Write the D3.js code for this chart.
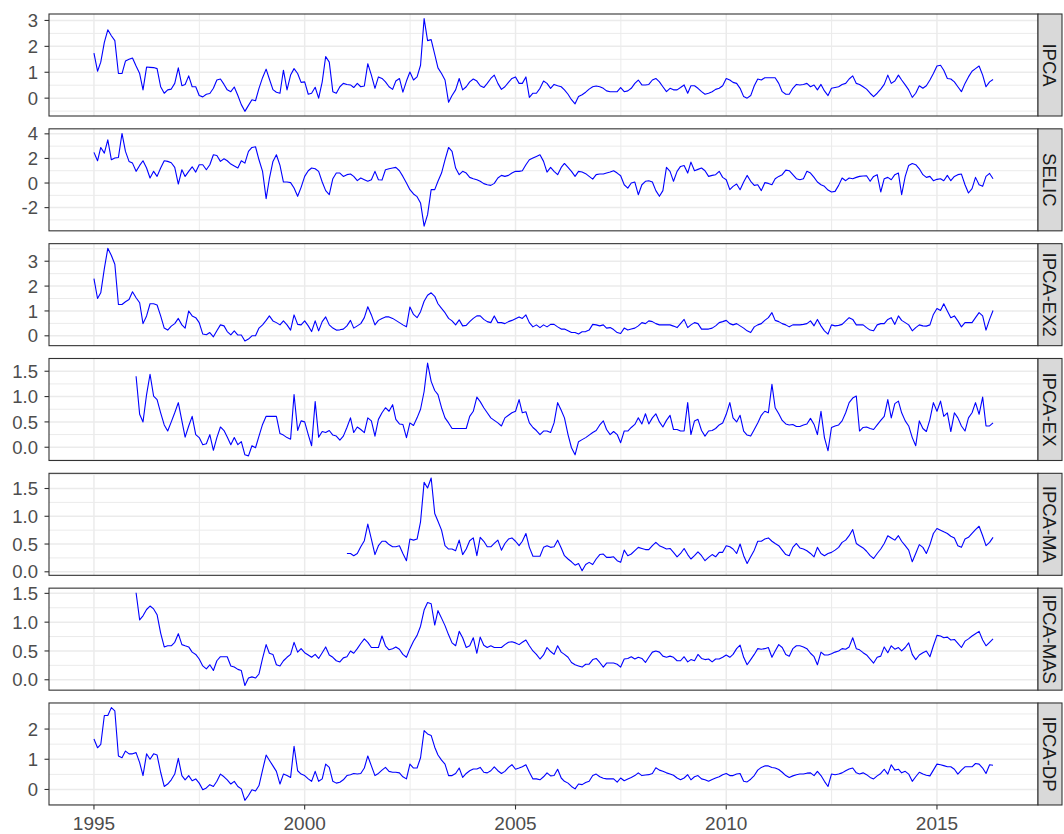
<!DOCTYPE html>
<html>
<head>
<meta charset="utf-8">
<script src="https://cdn.jsdelivr.net/npm/d3@7"></script>
<style>
  html, body { margin: 0; padding: 0; background: #ffffff; }
  svg { display: block; }
</style>
</head>
<body>
<svg id="chart" width="1064" height="834"></svg>
<script>
// Monthly rates (%), one row per year, January to December.
const ipca = [
  1.74, 1.04, 1.39, 2.15, 2.64, 2.41, 2.22, 0.95, 0.95, 1.43, 1.50, 1.55,
  1.24, 0.95, 0.32, 1.20, 1.19, 1.18, 1.14, 0.44, 0.19, 0.32, 0.35, 0.57,
  1.17, 0.48, 0.53, 0.86, 0.44, 0.44, 0.10, 0.05, 0.15, 0.18, 0.38, 0.70,
  0.74, 0.53, 0.32, 0.25, 0.43, 0.10, -0.25, -0.51, -0.28, -0.06, -0.10, 0.38,
  0.79, 1.12, 0.74, 0.33, 0.23, 0.19, 1.08, 0.32, 0.89, 1.14, 0.95, 0.61,
  0.63, 0.15, 0.19, 0.42, 0.00, 0.63, 1.61, 1.39, 0.25, 0.19, 0.44, 0.57,
  0.53, 0.51, 0.41, 0.57, 0.44, 0.47, 1.33, 0.89, 0.38, 0.82, 0.76, 0.63,
  0.44, 0.34, 0.66, 0.76, 0.23, 0.66, 1.01, 0.70, 0.82, 1.27, 3.07, 2.22,
  2.26, 1.69, 1.17, 0.95, 0.70, -0.16, 0.10, 0.32, 0.76, 0.32, 0.44, 0.63,
  0.74, 0.66, 0.48, 0.41, 0.57, 0.76, 0.89, 0.57, 0.34, 0.44, 0.61, 0.76,
  0.82, 0.57, 0.57, 0.82, 0.03, 0.19, 0.19, 0.38, 0.66, 0.57, 0.38, 0.53,
  0.48, 0.44, 0.32, 0.15, -0.06, -0.22, 0.06, 0.13, 0.23, 0.35, 0.44, 0.47,
  0.44, 0.38, 0.28, 0.25, 0.25, 0.25, 0.41, 0.25, 0.28, 0.38, 0.57, 0.70,
  0.51, 0.51, 0.53, 0.70, 0.76, 0.63, 0.44, 0.25, 0.38, 0.32, 0.32, 0.41,
  0.51, 0.19, 0.48, 0.48, 0.38, 0.25, 0.15, 0.19, 0.25, 0.34, 0.38, 0.48,
  0.76, 0.70, 0.61, 0.57, 0.38, 0.06, 0.00, 0.10, 0.48, 0.74, 0.70, 0.79,
  0.79, 0.79, 0.79, 0.57, 0.25, 0.15, 0.15, 0.38, 0.53, 0.51, 0.53, 0.57,
  0.44, 0.51, 0.32, 0.53, 0.28, 0.10, 0.38, 0.41, 0.44, 0.53, 0.57, 0.74,
  0.86, 0.57, 0.53, 0.44, 0.35, 0.19, 0.06, 0.19, 0.35, 0.53, 0.89, 0.57,
  0.66, 0.89, 0.70, 0.51, 0.32, 0.03, 0.19, 0.48, 0.38, 0.48, 0.70, 0.95,
  1.24, 1.27, 1.08, 0.76, 0.74, 0.63, 0.44, 0.25, 0.57, 0.82, 1.04, 1.14,
  1.24, 0.89, 0.44, 0.63, 0.72
];

const selic = [
  2.49, 1.81, 2.89, 2.43, 3.51, 1.89, 2.03, 2.08, 4.03, 2.57, 1.76, 1.62,
  0.95, 1.43, 1.81, 1.22, 0.41, 0.95, 0.54, 1.22, 1.81, 1.76, 1.65, 1.27,
  -0.08, 1.08, 0.54, 0.95, 1.32, 0.89, 1.49, 1.49, 1.08, 1.49, 2.30, 2.24,
  1.76, 1.97, 1.81, 1.54, 1.38, 1.22, 1.81, 1.62, 2.57, 2.89, 2.95, 1.89,
  0.95, -1.27, 0.35, 1.76, 2.30, 1.43, 0.08, 0.08, 0.03, -0.41, -1.08, -0.35,
  0.54, 1.00, 1.22, 1.16, 0.95, 0.08, -0.62, -0.95, 0.35, 0.81, 0.81, 0.54,
  0.68, 0.73, 0.54, 0.19, 0.41, 0.27, 0.14, 0.27, 0.95, 0.27, 0.24, 1.08,
  1.16, 1.22, 1.27, 1.00, 0.54, 0.00, -0.54, -0.89, -1.11, -1.62, -3.51, -2.57,
  -0.54, -0.54, 0.14, 0.81, 1.89, 2.89, 2.57, 1.22, 0.68, 0.95, 0.81, 0.46,
  0.35, 0.27, 0.14, -0.05, -0.14, -0.19, -0.03, 0.41, 0.62, 0.54, 0.62, 0.81,
  0.95, 0.95, 1.00, 1.49, 1.89, 2.03, 2.16, 2.30, 1.76, 0.89, 1.27, 0.95,
  0.68, 1.27, 1.59, 1.27, 0.95, 0.54, 0.95, 0.89, 0.76, 0.54, 0.32, 0.68,
  0.73, 0.73, 0.81, 0.89, 1.00, 0.81, 0.59, -0.14, -0.41, 0.00, 0.08, -0.95,
  -0.14, 0.14, 0.19, 0.08, -0.62, -1.08, -0.62, 1.27, 0.95, 0.14, 0.95, 1.35,
  1.43, 0.81, 1.70, 1.00, 1.11, 1.22, 1.00, 0.54, 0.62, 0.68, 0.95, 0.46,
  0.27, -0.54, -0.27, -0.08, -0.54, 0.08, 0.62, 0.14, -0.19, -0.14, -0.62, 0.03,
  -0.03, -0.14, 0.35, 0.54, 0.68, 1.05, 1.00, 0.68, 0.35, 0.27, 0.35, 0.95,
  0.81, 0.46, 0.08, -0.14, -0.27, -0.57, -0.73, -0.68, -0.19, 0.41, 0.19, 0.41,
  0.35, 0.46, 0.54, 0.57, 0.59, 0.14, 0.54, 0.68, -0.73, 0.35, 0.46, 0.27,
  0.68, 0.81, -0.95, 0.54, 1.43, 1.59, 1.49, 1.16, 0.68, 0.46, 0.54, 0.19,
  0.30, 0.35, 0.19, 0.62, 0.19, 0.54, 0.68, 0.73, -0.14, -0.81, -0.46, 0.46,
  -0.14, -0.27, 0.54, 0.78, 0.35
];

const ipcaEx2 = [
  2.30, 1.50, 1.73, 2.70, 3.52, 3.23, 2.88, 1.26, 1.26, 1.37, 1.46, 1.77,
  1.53, 1.33, 0.49, 0.80, 1.29, 1.29, 1.24, 0.80, 0.31, 0.23, 0.39, 0.49,
  0.70, 0.44, 0.31, 1.00, 0.80, 0.73, 0.53, 0.07, 0.04, 0.13, -0.04, 0.20,
  0.44, 0.40, 0.17, 0.04, 0.20, 0.03, 0.03, -0.21, -0.13, 0.00, 0.00, 0.31,
  0.44, 0.62, 0.80, 0.60, 0.53, 0.44, 0.60, 0.44, 0.23, 0.84, 0.46, 0.44,
  0.60, 0.40, 0.17, 0.60, 0.20, 0.57, 0.76, 0.44, 0.31, 0.23, 0.24, 0.27,
  0.40, 0.62, 0.31, 0.40, 0.49, 0.73, 1.17, 0.84, 0.44, 0.62, 0.70, 0.76,
  0.76, 0.70, 0.62, 0.53, 0.44, 0.36, 1.16, 0.86, 0.73, 0.97, 1.39, 1.63,
  1.73, 1.59, 1.29, 1.10, 0.93, 0.70, 0.60, 0.44, 0.64, 0.40, 0.42, 0.57,
  0.70, 0.80, 0.80, 0.66, 0.57, 0.53, 0.80, 0.53, 0.53, 0.49, 0.57, 0.62,
  0.69, 0.76, 0.70, 0.84, 0.53, 0.36, 0.44, 0.33, 0.44, 0.36, 0.46, 0.46,
  0.36, 0.27, 0.27, 0.20, 0.13, 0.13, 0.07, 0.16, 0.17, 0.23, 0.46, 0.44,
  0.40, 0.44, 0.31, 0.33, 0.25, 0.13, 0.09, 0.31, 0.23, 0.27, 0.31, 0.40,
  0.53, 0.49, 0.60, 0.57, 0.49, 0.44, 0.44, 0.44, 0.44, 0.39, 0.33, 0.49,
  0.66, 0.33, 0.44, 0.53, 0.49, 0.27, 0.27, 0.27, 0.31, 0.40, 0.53, 0.57,
  0.62, 0.49, 0.44, 0.49, 0.40, 0.31, 0.20, 0.13, 0.36, 0.44, 0.49, 0.62,
  0.73, 0.93, 0.62, 0.57, 0.49, 0.44, 0.36, 0.44, 0.44, 0.44, 0.46, 0.49,
  0.60, 0.40, 0.66, 0.40, 0.20, 0.07, 0.44, 0.40, 0.42, 0.46, 0.60, 0.73,
  0.66, 0.44, 0.44, 0.44, 0.33, 0.23, 0.20, 0.44, 0.49, 0.49, 0.66, 0.73,
  0.46, 0.80, 0.62, 0.53, 0.44, 0.20, 0.33, 0.44, 0.40, 0.39, 0.44, 0.86,
  1.10, 1.02, 1.29, 1.00, 0.73, 0.80, 0.60, 0.36, 0.53, 0.53, 0.53, 0.73,
  0.93, 0.80, 0.23, 0.66, 1.02
];

// Starts in January 1996
const ipcaEx = [
  1.40, 0.65, 0.50, 1.04, 1.44, 1.01, 0.94, 0.68, 0.44, 0.32, 0.50, 0.68,
  0.88, 0.52, 0.20, 0.42, 0.61, 0.25, 0.19, 0.05, 0.07, 0.25, -0.06, 0.19,
  0.40, 0.33, 0.20, 0.05, 0.19, 0.05, 0.11, -0.15, -0.17, 0.03, -0.01, 0.22,
  0.45, 0.61, 0.61, 0.61, 0.61, 0.27, 0.24, 0.19, 0.16, 1.04, 0.33, 0.52,
  0.50, 0.25, 0.03, 0.90, 0.20, 0.31, 0.29, 0.33, 0.24, 0.22, 0.14, 0.22,
  0.39, 0.58, 0.29, 0.40, 0.35, 0.29, 0.58, 0.52, 0.22, 0.55, 0.68, 0.78,
  0.71, 0.84, 0.55, 0.46, 0.45, 0.19, 0.48, 0.43, 0.58, 0.75, 1.10, 1.66,
  1.30, 1.12, 1.04, 0.78, 0.58, 0.48, 0.37, 0.37, 0.37, 0.37, 0.37, 0.61,
  0.71, 0.99, 0.90, 0.78, 0.68, 0.58, 0.53, 0.48, 0.42, 0.58, 0.63, 0.68,
  0.71, 0.94, 0.68, 0.70, 0.48, 0.39, 0.33, 0.25, 0.32, 0.32, 0.29, 0.48,
  0.88, 0.73, 0.58, 0.25, -0.01, -0.15, 0.11, 0.15, 0.19, 0.24, 0.29, 0.33,
  0.44, 0.52, 0.35, 0.25, 0.31, 0.25, 0.09, 0.32, 0.32, 0.39, 0.45, 0.58,
  0.46, 0.66, 0.46, 0.58, 0.66, 0.50, 0.40, 0.53, 0.63, 0.35, 0.35, 0.32,
  0.32, 0.88, 0.25, 0.52, 0.55, 0.33, 0.22, 0.32, 0.33, 0.37, 0.44, 0.48,
  0.65, 0.88, 0.58, 0.50, 0.63, 0.32, 0.24, 0.22, 0.35, 0.48, 0.63, 0.71,
  0.68, 1.24, 0.78, 0.66, 0.53, 0.46, 0.44, 0.45, 0.41, 0.41, 0.44, 0.46,
  0.57, 0.45, 0.25, 0.71, 0.19, -0.07, 0.39, 0.42, 0.44, 0.52, 0.68, 0.88,
  0.97, 1.01, 0.32, 0.39, 0.40, 0.37, 0.35, 0.44, 0.53, 0.61, 0.94, 0.58,
  0.86, 0.91, 0.68, 0.52, 0.42, 0.19, 0.03, 0.52, 0.37, 0.31, 0.55, 0.88,
  0.71, 0.91, 0.61, 0.68, 0.31, 0.68, 0.58, 0.42, 0.32, 0.58, 0.68, 0.88,
  0.65, 0.99, 0.42, 0.42, 0.48
];

// Starts in January 2001
const ipcaMa = [
  0.33, 0.33, 0.29, 0.33, 0.45, 0.56, 0.86, 0.59, 0.31, 0.47, 0.55, 0.55,
  0.49, 0.45, 0.45, 0.47, 0.33, 0.20, 0.59, 0.57, 0.59, 0.90, 1.61, 1.51,
  1.69, 1.05, 0.91, 0.75, 0.47, 0.41, 0.41, 0.38, 0.57, 0.31, 0.41, 0.56,
  0.61, 0.29, 0.62, 0.55, 0.45, 0.45, 0.51, 0.57, 0.39, 0.51, 0.59, 0.61,
  0.55, 0.47, 0.55, 0.69, 0.44, 0.28, 0.28, 0.28, 0.44, 0.47, 0.44, 0.45,
  0.57, 0.43, 0.29, 0.23, 0.18, 0.12, 0.15, 0.02, 0.13, 0.17, 0.13, 0.23,
  0.31, 0.32, 0.26, 0.26, 0.27, 0.20, 0.17, 0.39, 0.29, 0.32, 0.38, 0.44,
  0.42, 0.40, 0.40, 0.47, 0.53, 0.47, 0.44, 0.41, 0.42, 0.35, 0.27, 0.33,
  0.42, 0.31, 0.23, 0.29, 0.36, 0.29, 0.20, 0.26, 0.31, 0.27, 0.35, 0.35,
  0.47, 0.45, 0.41, 0.33, 0.50, 0.29, 0.15, 0.27, 0.39, 0.55, 0.55, 0.59,
  0.61, 0.55, 0.51, 0.47, 0.39, 0.31, 0.29, 0.44, 0.51, 0.43, 0.41, 0.38,
  0.33, 0.27, 0.44, 0.33, 0.29, 0.33, 0.35, 0.39, 0.44, 0.53, 0.57, 0.65,
  0.76, 0.51, 0.47, 0.43, 0.37, 0.29, 0.24, 0.33, 0.41, 0.51, 0.65, 0.61,
  0.57, 0.65, 0.55, 0.47, 0.39, 0.18, 0.33, 0.49, 0.44, 0.33, 0.49, 0.69,
  0.78, 0.75, 0.72, 0.69, 0.64, 0.61, 0.47, 0.44, 0.59, 0.62, 0.69, 0.76,
  0.82, 0.65, 0.47, 0.53, 0.62
];

// Starts in January 1996
const ipcaMas = [
  1.51, 1.04, 1.11, 1.22, 1.28, 1.23, 1.13, 0.81, 0.57, 0.59, 0.59, 0.65,
  0.80, 0.61, 0.59, 0.57, 0.48, 0.44, 0.36, 0.24, 0.19, 0.26, 0.16, 0.33,
  0.40, 0.40, 0.40, 0.24, 0.22, 0.18, 0.16, -0.10, 0.03, 0.05, 0.03, 0.10,
  0.37, 0.61, 0.46, 0.44, 0.26, 0.24, 0.33, 0.39, 0.44, 0.65, 0.48, 0.54,
  0.47, 0.43, 0.39, 0.44, 0.37, 0.47, 0.57, 0.43, 0.39, 0.33, 0.31, 0.38,
  0.40, 0.50, 0.46, 0.54, 0.63, 0.71, 0.65, 0.56, 0.56, 0.56, 0.76, 0.59,
  0.52, 0.54, 0.57, 0.53, 0.44, 0.39, 0.54, 0.67, 0.77, 0.93, 1.21, 1.34,
  1.32, 0.95, 1.20, 1.07, 0.94, 0.78, 0.64, 0.59, 0.84, 0.73, 0.56, 0.59,
  0.73, 0.46, 0.74, 0.60, 0.56, 0.59, 0.56, 0.56, 0.56, 0.61, 0.65, 0.66,
  0.64, 0.61, 0.65, 0.69, 0.59, 0.50, 0.44, 0.36, 0.43, 0.56, 0.49, 0.44,
  0.59, 0.48, 0.44, 0.39, 0.30, 0.26, 0.24, 0.22, 0.27, 0.27, 0.35, 0.37,
  0.30, 0.22, 0.29, 0.29, 0.29, 0.27, 0.22, 0.36, 0.37, 0.40, 0.36, 0.39,
  0.37, 0.30, 0.39, 0.48, 0.50, 0.48, 0.41, 0.39, 0.41, 0.39, 0.33, 0.33,
  0.40, 0.31, 0.35, 0.33, 0.44, 0.37, 0.35, 0.36, 0.31, 0.36, 0.36, 0.39,
  0.43, 0.39, 0.44, 0.54, 0.60, 0.39, 0.26, 0.35, 0.44, 0.54, 0.53, 0.54,
  0.56, 0.39, 0.50, 0.61, 0.56, 0.44, 0.41, 0.54, 0.59, 0.59, 0.57, 0.54,
  0.46, 0.40, 0.26, 0.48, 0.43, 0.43, 0.45, 0.48, 0.50, 0.54, 0.53, 0.57,
  0.73, 0.54, 0.52, 0.47, 0.43, 0.36, 0.29, 0.39, 0.41, 0.57, 0.47, 0.59,
  0.53, 0.56, 0.50, 0.56, 0.64, 0.44, 0.35, 0.43, 0.47, 0.50, 0.40, 0.59,
  0.77, 0.76, 0.73, 0.74, 0.69, 0.70, 0.63, 0.56, 0.67, 0.71, 0.76, 0.80,
  0.84, 0.69, 0.59, 0.65, 0.71
];

const ipcaDp = [
  1.67, 1.38, 1.49, 2.45, 2.45, 2.71, 2.60, 1.11, 1.05, 1.27, 1.18, 1.18,
  1.22, 0.89, 0.46, 1.18, 1.00, 1.18, 1.14, 0.57, 0.10, 0.18, 0.32, 0.51,
  1.03, 0.46, 0.32, 0.46, 0.29, 0.35, 0.21, -0.01, 0.05, 0.16, 0.10, 0.27,
  0.51, 0.42, 0.32, 0.18, 0.27, 0.10, 0.02, -0.36, -0.20, -0.01, -0.05, 0.13,
  0.64, 1.14, 0.97, 0.78, 0.60, 0.18, 0.51, 0.46, 0.40, 1.43, 0.62, 0.51,
  0.46, 0.35, 0.27, 0.60, 0.27, 0.35, 0.84, 0.73, 0.27, 0.21, 0.24, 0.32,
  0.46, 0.49, 0.53, 0.51, 0.53, 0.71, 1.11, 0.78, 0.46, 0.53, 0.64, 0.73,
  0.60, 0.57, 0.57, 0.55, 0.42, 0.35, 0.84, 0.71, 0.71, 1.05, 1.95, 1.84,
  1.79, 1.40, 1.14, 0.97, 0.84, 0.46, 0.46, 0.53, 0.71, 0.40, 0.53, 0.62,
  0.68, 0.68, 0.73, 0.57, 0.55, 0.62, 0.75, 0.62, 0.53, 0.60, 0.73, 0.82,
  0.67, 0.71, 0.75, 0.82, 0.57, 0.35, 0.35, 0.32, 0.42, 0.55, 0.45, 0.46,
  0.67, 0.38, 0.27, 0.21, 0.10, 0.02, 0.18, 0.16, 0.23, 0.27, 0.46, 0.51,
  0.42, 0.37, 0.35, 0.35, 0.35, 0.24, 0.38, 0.29, 0.35, 0.40, 0.46, 0.55,
  0.46, 0.48, 0.49, 0.53, 0.72, 0.64, 0.60, 0.55, 0.51, 0.47, 0.38, 0.32,
  0.38, 0.49, 0.32, 0.42, 0.46, 0.35, 0.32, 0.27, 0.33, 0.38, 0.42, 0.49,
  0.53, 0.46, 0.46, 0.51, 0.53, 0.27, 0.25, 0.34, 0.46, 0.64, 0.73, 0.78,
  0.78, 0.73, 0.71, 0.66, 0.57, 0.46, 0.40, 0.45, 0.49, 0.51, 0.51, 0.54,
  0.55, 0.46, 0.60, 0.46, 0.27, 0.10, 0.51, 0.49, 0.51, 0.55, 0.62, 0.68,
  0.71, 0.55, 0.51, 0.55, 0.49, 0.40, 0.35, 0.45, 0.53, 0.67, 0.51, 0.82,
  0.64, 0.67, 0.55, 0.60, 0.51, 0.27, 0.42, 0.57, 0.51, 0.47, 0.45, 0.64,
  0.84, 0.82, 0.79, 0.75, 0.75, 0.67, 0.51, 0.64, 0.75, 0.75, 0.75, 0.86,
  0.84, 0.71, 0.53, 0.82, 0.80
];

const facetNames   = ["IPCA", "SELIC", "IPCA-EX2", "IPCA-EX", "IPCA-MA", "IPCA-MAS", "IPCA-DP"];
const facetValues  = [ipca, selic, ipcaEx2, ipcaEx, ipcaMa, ipcaMas, ipcaDp];
const facetStart   = [[1995, 0], [1995, 0], [1995, 0], [1996, 0], [2001, 0], [1996, 0], [1995, 0]];
const facetBreaks  = [[0, 1, 2, 3], [-2, 0, 2, 4], [0, 1, 2, 3], [0, 0.5, 1, 1.5], [0, 0.5, 1, 1.5], [0, 0.5, 1, 1.5], [0, 1, 2]];
const xBreakYears  = [1995, 2000, 2005, 2010, 2015];

// ---- layout ----
const svg = d3.select("#chart");
const panelLeft = 49, panelRight = 1038;
const stripWidth = 24;
const panelTop0 = 14, panelHeight = 102, panelStep = 114.83;
const fontFamily = "'Liberation Sans', Arial, Helvetica, sans-serif";
const fontSize = 18.5;

svg.append("rect").attr("width", 1064).attr("height", 834).attr("fill", "#ffffff");

// Build dated records for every facet
const facets = facetNames.map((name, i) => {
  const [y0, m0] = facetStart[i];
  const points = facetValues[i].map((v, k) => ({ date: new Date(Date.UTC(y0, m0 + k, 1)), value: v }));
  return { name, points, breaks: facetBreaks[i] };
});

// Shared time axis, padded 5% on each side
const allDates = facets.flatMap(f => f.points.map(p => +p.date));
const tMin = d3.min(allDates), tMax = d3.max(allDates);
const tPad = (tMax - tMin) * 0.05;
const x = d3.scaleUtc()
  .domain([new Date(tMin - tPad), new Date(tMax + tPad)])
  .range([panelLeft, panelRight]);

const xMajor = xBreakYears.map(y => new Date(Date.UTC(y, 0, 1)));
const xMinorCandidates = [];
const xStep = +xMajor[1] - +xMajor[0];
xMinorCandidates.push(new Date(+xMajor[0] - xStep / 2));
for (let i = 0; i < xMajor.length - 1; i++) xMinorCandidates.push(new Date((+xMajor[i] + +xMajor[i + 1]) / 2));
xMinorCandidates.push(new Date(+xMajor[xMajor.length - 1] + xStep / 2));
const [xd0, xd1] = x.domain();
const xMinor = xMinorCandidates.filter(d => d >= xd0 && d <= xd1);

const fmtBreak = (breaks) => {
  const decimals = breaks.some(b => !Number.isInteger(b)) ? 1 : 0;
  return v => v.toFixed(decimals);
};

facets.forEach((f, i) => {
  const top = panelTop0 + i * panelStep;
  const bottom = top + panelHeight;
  const ext = d3.extent(f.points, p => p.value);
  const pad = (ext[1] - ext[0]) * 0.05;
  const y = d3.scaleLinear().domain([ext[0] - pad, ext[1] + pad]).range([bottom, top]);

  const step = f.breaks[1] - f.breaks[0];
  const minorCand = [f.breaks[0] - step / 2];
  for (let k = 0; k < f.breaks.length - 1; k++) minorCand.push((f.breaks[k] + f.breaks[k + 1]) / 2);
  minorCand.push(f.breaks[f.breaks.length - 1] + step / 2);
  const [yd0, yd1] = y.domain();
  const yMinor = minorCand.filter(v => v >= yd0 && v <= yd1);

  const g = svg.append("g").attr("class", "panel");

  // panel background
  g.append("rect")
    .attr("x", panelLeft).attr("y", top)
    .attr("width", panelRight - panelLeft).attr("height", panelHeight)
    .attr("fill", "#ffffff");

  // minor grid
  g.selectAll(".hminor").data(yMinor).join("line")
    .attr("x1", panelLeft).attr("x2", panelRight)
    .attr("y1", d => y(d)).attr("y2", d => y(d))
    .attr("stroke", "#ebebeb").attr("stroke-width", 1);
  g.selectAll(".vminor").data(xMinor).join("line")
    .attr("y1", top).attr("y2", bottom)
    .attr("x1", d => x(d)).attr("x2", d => x(d))
    .attr("stroke", "#ebebeb").attr("stroke-width", 1);

  // major grid
  g.selectAll(".hmajor").data(f.breaks).join("line")
    .attr("x1", panelLeft).attr("x2", panelRight)
    .attr("y1", d => y(d)).attr("y2", d => y(d))
    .attr("stroke", "#ebebeb").attr("stroke-width", 1.5);
  g.selectAll(".vmajor").data(xMajor).join("line")
    .attr("y1", top).attr("y2", bottom)
    .attr("x1", d => x(d)).attr("x2", d => x(d))
    .attr("stroke", "#ebebeb").attr("stroke-width", 1.5);

  // series line
  const line = d3.line().x(p => x(p.date)).y(p => y(p.value));
  g.append("path")
    .datum(f.points)
    .attr("d", line)
    .attr("fill", "none")
    .attr("stroke", "#0000ff")
    .attr("stroke-width", 1.1)
    .attr("stroke-linejoin", "round");

  // panel border
  g.append("rect")
    .attr("x", panelLeft).attr("y", top)
    .attr("width", panelRight - panelLeft).attr("height", panelHeight)
    .attr("fill", "none").attr("stroke", "#333333").attr("stroke-width", 1.1);

  // y axis ticks and labels
  const fmt = fmtBreak(f.breaks);
  const yAxis = svg.append("g");
  yAxis.selectAll("line").data(f.breaks).join("line")
    .attr("x1", panelLeft - 4.5).attr("x2", panelLeft)
    .attr("y1", d => y(d)).attr("y2", d => y(d))
    .attr("stroke", "#333333").attr("stroke-width", 1.1);
  yAxis.selectAll("text").data(f.breaks).join("text")
    .attr("x", panelLeft - 11)
    .attr("y", d => y(d))
    .attr("dy", "0.36em")
    .attr("text-anchor", "end")
    .attr("font-family", fontFamily)
    .attr("font-size", fontSize)
    .attr("fill", "#4d4d4d")
    .text(d => fmt(d));

  // strip on the right
  const strip = svg.append("g");
  strip.append("rect")
    .attr("x", panelRight).attr("y", top)
    .attr("width", stripWidth).attr("height", panelHeight)
    .attr("fill", "#d9d9d9").attr("stroke", "#333333").attr("stroke-width", 1.1);
  const cx = panelRight + stripWidth / 2, cy = top + panelHeight / 2;
  strip.append("text")
    .attr("transform", `translate(${cx},${cy}) rotate(90)`)
    .attr("text-anchor", "middle")
    .attr("dy", "0.36em")
    .attr("font-family", fontFamily)
    .attr("font-size", fontSize)
    .attr("fill", "#1a1a1a")
    .text(f.name);
});

// x axis under the last panel
const lastBottom = panelTop0 + (facets.length - 1) * panelStep + panelHeight;
const xAxis = svg.append("g");
xAxis.selectAll("line").data(xMajor).join("line")
  .attr("x1", d => x(d)).attr("x2", d => x(d))
  .attr("y1", lastBottom).attr("y2", lastBottom + 4.5)
  .attr("stroke", "#333333").attr("stroke-width", 1.1);
xAxis.selectAll("text").data(xMajor).join("text")
  .attr("x", d => x(d))
  .attr("y", lastBottom + 25)
  .attr("text-anchor", "middle")
  .attr("font-family", fontFamily)
  .attr("font-size", 19)
  .attr("fill", "#4d4d4d")
  .text(d => d.getUTCFullYear());
</script>
</body>
</html>
